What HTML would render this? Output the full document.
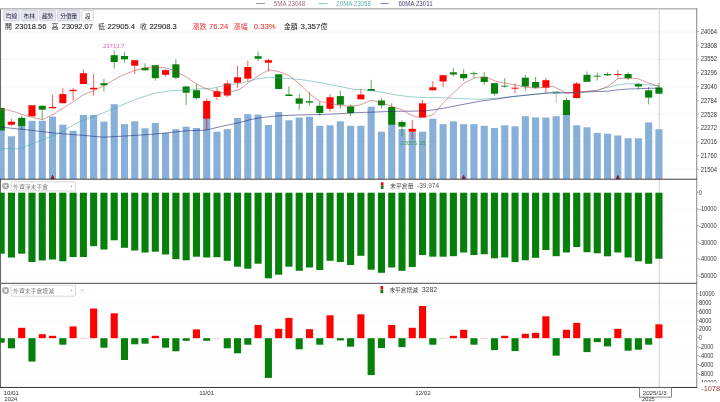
<!DOCTYPE html>
<html lang="zh-Hant"><head><meta charset="utf-8"><title>chart</title>
<style>
html,body{margin:0;padding:0;background:#fff;}
body{width:720px;height:402px;overflow:hidden;position:relative;}
svg{position:absolute;left:0;top:0;display:block;font-family:"Liberation Sans","Noto Sans CJK TC",sans-serif;}
</style></head><body>
<svg width="720" height="402" viewBox="0 0 720 402">
<line x1="256.2" y1="3.55" x2="265.2" y2="3.55" stroke="#7a4450" stroke-width="0.6"/>
<text x="273.8" y="5.95" font-size="6.6" fill="#ad6b78" text-anchor="start" textLength="31.5" lengthAdjust="spacingAndGlyphs">5MA 23048</text>
<line x1="318.6" y1="3.55" x2="327.3" y2="3.55" stroke="#4f9a9a" stroke-width="0.6"/>
<text x="336.3" y="5.95" font-size="6.6" fill="#5fb0ac" text-anchor="start" textLength="34.6" lengthAdjust="spacingAndGlyphs">20MA 23058</text>
<line x1="380.6" y1="3.55" x2="388.7" y2="3.55" stroke="#2a2a66" stroke-width="0.6"/>
<text x="398.4" y="5.95" font-size="6.6" fill="#45457f" text-anchor="start" textLength="34.2" lengthAdjust="spacingAndGlyphs">60MA 23011</text>
<line x1="1" y1="31.9" x2="697" y2="31.9" stroke="#f4f2f3" stroke-width="0.8"/>
<line x1="1" y1="59.35" x2="697" y2="59.35" stroke="#f4f2f3" stroke-width="0.8"/>
<line x1="1" y1="86.8" x2="697" y2="86.8" stroke="#f4f2f3" stroke-width="0.8"/>
<line x1="1" y1="114.25" x2="697" y2="114.25" stroke="#f4f2f3" stroke-width="0.8"/>
<line x1="1" y1="141.7" x2="697" y2="141.7" stroke="#f4f2f3" stroke-width="0.8"/>
<line x1="1" y1="169.15" x2="697" y2="169.15" stroke="#f4f2f3" stroke-width="0.8"/>
<line x1="1" y1="382.45" x2="697" y2="382.45" stroke="#fafafa" stroke-width="0.7"/>
<line x1="1" y1="373.6" x2="697" y2="373.6" stroke="#fafafa" stroke-width="0.7"/>
<line x1="1" y1="364.75" x2="697" y2="364.75" stroke="#fafafa" stroke-width="0.7"/>
<line x1="1" y1="355.9" x2="697" y2="355.9" stroke="#fafafa" stroke-width="0.7"/>
<line x1="1" y1="347.05" x2="697" y2="347.05" stroke="#fafafa" stroke-width="0.7"/>
<line x1="1" y1="329.35" x2="697" y2="329.35" stroke="#fafafa" stroke-width="0.7"/>
<line x1="1" y1="320.5" x2="697" y2="320.5" stroke="#fafafa" stroke-width="0.7"/>
<line x1="1" y1="311.65" x2="697" y2="311.65" stroke="#fafafa" stroke-width="0.7"/>
<line x1="1" y1="302.8" x2="697" y2="302.8" stroke="#fafafa" stroke-width="0.7"/>
<line x1="1" y1="209.3" x2="697" y2="209.3" stroke="#fafafa" stroke-width="0.7"/>
<line x1="1" y1="225.9" x2="697" y2="225.9" stroke="#fafafa" stroke-width="0.7"/>
<line x1="1" y1="242.5" x2="697" y2="242.5" stroke="#fafafa" stroke-width="0.7"/>
<line x1="1" y1="259.1" x2="697" y2="259.1" stroke="#fafafa" stroke-width="0.7"/>
<line x1="1" y1="275.7" x2="697" y2="275.7" stroke="#fafafa" stroke-width="0.7"/>
<line x1="0.5" y1="8.5" x2="0.5" y2="387.5" stroke="#6a6a6a" stroke-width="1.1"/>
<defs><linearGradient id="cg" x1="0" x2="1" y1="0" y2="0"><stop offset="0" stop-color="#d6d9e4" stop-opacity="0"/><stop offset="0.6" stop-color="#d6d9e4" stop-opacity="0.3"/><stop offset="0.86" stop-color="#d2d5e2" stop-opacity="1"/><stop offset="1" stop-color="#d2d5e2" stop-opacity="0.75"/></linearGradient></defs>
<rect x="656.6" y="9.4" width="3.6" height="377.6" fill="url(#cg)"/>
<rect x="-2.4" y="125" width="7.1" height="53.9" fill="#88afd8"/>
<rect x="7.88" y="136.3" width="7.1" height="42.6" fill="#88afd8"/>
<rect x="18.16" y="121" width="7.1" height="57.9" fill="#88afd8"/>
<rect x="28.43" y="120.8" width="7.1" height="58.1" fill="#88afd8"/>
<rect x="38.71" y="120.8" width="7.1" height="58.1" fill="#88afd8"/>
<rect x="48.99" y="116.6" width="7.1" height="62.3" fill="#88afd8"/>
<rect x="59.27" y="124.7" width="7.1" height="54.2" fill="#88afd8"/>
<rect x="69.55" y="130.8" width="7.1" height="48.1" fill="#88afd8"/>
<rect x="79.82" y="115" width="7.1" height="63.9" fill="#88afd8"/>
<rect x="90.1" y="115" width="7.1" height="63.9" fill="#88afd8"/>
<rect x="100.38" y="121.7" width="7.1" height="57.2" fill="#88afd8"/>
<rect x="110.66" y="104.2" width="7.1" height="74.7" fill="#88afd8"/>
<rect x="120.94" y="124.2" width="7.1" height="54.7" fill="#88afd8"/>
<rect x="131.21" y="121.3" width="7.1" height="57.6" fill="#88afd8"/>
<rect x="141.49" y="128.3" width="7.1" height="50.6" fill="#88afd8"/>
<rect x="151.77" y="123" width="7.1" height="55.9" fill="#88afd8"/>
<rect x="162.05" y="133" width="7.1" height="45.9" fill="#88afd8"/>
<rect x="172.33" y="129.2" width="7.1" height="49.7" fill="#88afd8"/>
<rect x="182.6" y="126.7" width="7.1" height="52.2" fill="#88afd8"/>
<rect x="192.88" y="128" width="7.1" height="50.9" fill="#88afd8"/>
<rect x="203.16" y="118" width="7.1" height="60.9" fill="#88afd8"/>
<rect x="213.44" y="131.7" width="7.1" height="47.2" fill="#88afd8"/>
<rect x="223.72" y="129.2" width="7.1" height="49.7" fill="#88afd8"/>
<rect x="233.99" y="118" width="7.1" height="60.9" fill="#88afd8"/>
<rect x="244.27" y="114.2" width="7.1" height="64.7" fill="#88afd8"/>
<rect x="254.55" y="114.7" width="7.1" height="64.2" fill="#88afd8"/>
<rect x="264.83" y="125" width="7.1" height="53.9" fill="#88afd8"/>
<rect x="275.11" y="112" width="7.1" height="66.9" fill="#88afd8"/>
<rect x="285.38" y="120.3" width="7.1" height="58.6" fill="#88afd8"/>
<rect x="295.66" y="117.5" width="7.1" height="61.4" fill="#88afd8"/>
<rect x="305.94" y="116.7" width="7.1" height="62.2" fill="#88afd8"/>
<rect x="316.22" y="125.8" width="7.1" height="53.1" fill="#88afd8"/>
<rect x="326.5" y="125.3" width="7.1" height="53.6" fill="#88afd8"/>
<rect x="336.77" y="121.3" width="7.1" height="57.6" fill="#88afd8"/>
<rect x="347.05" y="125.8" width="7.1" height="53.1" fill="#88afd8"/>
<rect x="357.33" y="125.8" width="7.1" height="53.1" fill="#88afd8"/>
<rect x="367.61" y="106.7" width="7.1" height="72.2" fill="#88afd8"/>
<rect x="377.89" y="131.7" width="7.1" height="47.2" fill="#88afd8"/>
<rect x="388.16" y="124" width="7.1" height="54.9" fill="#88afd8"/>
<rect x="398.44" y="129.2" width="7.1" height="49.7" fill="#88afd8"/>
<rect x="408.72" y="132" width="7.1" height="46.9" fill="#88afd8"/>
<rect x="419" y="131.7" width="7.1" height="47.2" fill="#88afd8"/>
<rect x="429.28" y="118.7" width="7.1" height="60.2" fill="#88afd8"/>
<rect x="439.55" y="124.2" width="7.1" height="54.7" fill="#88afd8"/>
<rect x="449.83" y="121.3" width="7.1" height="57.6" fill="#88afd8"/>
<rect x="460.11" y="124.2" width="7.1" height="54.7" fill="#88afd8"/>
<rect x="470.39" y="124.2" width="7.1" height="54.7" fill="#88afd8"/>
<rect x="480.67" y="125.8" width="7.1" height="53.1" fill="#88afd8"/>
<rect x="490.94" y="128" width="7.1" height="50.9" fill="#88afd8"/>
<rect x="501.22" y="125.3" width="7.1" height="53.6" fill="#88afd8"/>
<rect x="511.5" y="126.3" width="7.1" height="52.6" fill="#88afd8"/>
<rect x="521.78" y="116.2" width="7.1" height="62.7" fill="#88afd8"/>
<rect x="532.06" y="117.5" width="7.1" height="61.4" fill="#88afd8"/>
<rect x="542.33" y="117.5" width="7.1" height="61.4" fill="#88afd8"/>
<rect x="552.61" y="116.2" width="7.1" height="62.7" fill="#88afd8"/>
<rect x="562.89" y="114.5" width="7.1" height="64.4" fill="#88afd8"/>
<rect x="573.17" y="125.3" width="7.1" height="53.6" fill="#88afd8"/>
<rect x="583.45" y="127.3" width="7.1" height="51.6" fill="#88afd8"/>
<rect x="593.72" y="132.8" width="7.1" height="46.1" fill="#88afd8"/>
<rect x="604" y="133.7" width="7.1" height="45.2" fill="#88afd8"/>
<rect x="614.28" y="135.5" width="7.1" height="43.4" fill="#88afd8"/>
<rect x="624.56" y="138.3" width="7.1" height="40.6" fill="#88afd8"/>
<rect x="634.84" y="138.3" width="7.1" height="40.6" fill="#88afd8"/>
<rect x="645.11" y="122.5" width="7.1" height="56.4" fill="#88afd8"/>
<rect x="655.39" y="129.2" width="7.1" height="49.7" fill="#88afd8"/>
<rect x="-2.4" y="108" width="7.1" height="22.5" fill="#06800a"/>
<line x1="11.43" y1="119" x2="11.43" y2="126.2" stroke="#fb0303" stroke-width="0.65"/>
<rect x="7.88" y="121.8" width="7.1" height="2.9" fill="#fb0303"/>
<line x1="21.71" y1="115.5" x2="21.71" y2="129.8" stroke="#06800a" stroke-width="0.65"/>
<rect x="18.16" y="117.8" width="7.1" height="8.2" fill="#06800a"/>
<rect x="28.43" y="105.2" width="7.1" height="11.2" fill="#fb0303"/>
<line x1="42.26" y1="105.3" x2="42.26" y2="119.5" stroke="#06800a" stroke-width="0.65"/>
<rect x="38.71" y="105.8" width="7.1" height="3.9" fill="#06800a"/>
<line x1="52.54" y1="94.9" x2="52.54" y2="108.3" stroke="#fb0303" stroke-width="0.65"/>
<rect x="48.99" y="106.9" width="7.1" height="1.4" fill="#fb0303"/>
<line x1="62.82" y1="88.2" x2="62.82" y2="103.2" stroke="#fb0303" stroke-width="0.65"/>
<rect x="59.27" y="94.1" width="7.1" height="9.1" fill="#fb0303"/>
<line x1="73.1" y1="88.2" x2="73.1" y2="100.5" stroke="#fb0303" stroke-width="0.65"/>
<rect x="69.55" y="89.8" width="7.1" height="1.4" fill="#fb0303"/>
<line x1="83.37" y1="69.3" x2="83.37" y2="84" stroke="#fb0303" stroke-width="0.65"/>
<rect x="79.82" y="73.2" width="7.1" height="10.8" fill="#fb0303"/>
<line x1="93.65" y1="74" x2="93.65" y2="95.7" stroke="#fb0303" stroke-width="0.65"/>
<rect x="90.1" y="87.8" width="7.1" height="1.5" fill="#fb0303"/>
<line x1="103.93" y1="78.7" x2="103.93" y2="91.5" stroke="#06800a" stroke-width="0.65"/>
<rect x="100.38" y="83.2" width="7.1" height="2.1" fill="#06800a"/>
<line x1="114.21" y1="50.3" x2="114.21" y2="68.7" stroke="#06800a" stroke-width="0.65"/>
<rect x="110.66" y="55.2" width="7.1" height="6.8" fill="#06800a"/>
<line x1="124.49" y1="51.8" x2="124.49" y2="62.7" stroke="#06800a" stroke-width="0.65"/>
<rect x="120.94" y="56" width="7.1" height="3.3" fill="#06800a"/>
<line x1="134.76" y1="60.2" x2="134.76" y2="74" stroke="#fb0303" stroke-width="0.65"/>
<rect x="131.21" y="60.2" width="7.1" height="5.5" fill="#fb0303"/>
<line x1="145.04" y1="63.2" x2="145.04" y2="70.7" stroke="#06800a" stroke-width="0.65"/>
<rect x="141.49" y="67.8" width="7.1" height="2.5" fill="#06800a"/>
<line x1="155.32" y1="64.8" x2="155.32" y2="80.7" stroke="#06800a" stroke-width="0.65"/>
<rect x="151.77" y="65.2" width="7.1" height="13" fill="#06800a"/>
<line x1="165.6" y1="69" x2="165.6" y2="76.5" stroke="#fb0303" stroke-width="0.65"/>
<rect x="162.05" y="70.2" width="7.1" height="4.6" fill="#fb0303"/>
<line x1="175.88" y1="59.3" x2="175.88" y2="79.3" stroke="#06800a" stroke-width="0.65"/>
<rect x="172.33" y="64.3" width="7.1" height="13.4" fill="#06800a"/>
<line x1="186.15" y1="86" x2="186.15" y2="104.9" stroke="#06800a" stroke-width="0.65"/>
<rect x="182.6" y="86.5" width="7.1" height="6.2" fill="#06800a"/>
<line x1="196.43" y1="84" x2="196.43" y2="99.8" stroke="#06800a" stroke-width="0.65"/>
<rect x="192.88" y="90.2" width="7.1" height="7.9" fill="#06800a"/>
<line x1="206.71" y1="98.7" x2="206.71" y2="130" stroke="#fb0303" stroke-width="0.65"/>
<rect x="203.16" y="100.9" width="7.1" height="17.8" fill="#fb0303"/>
<line x1="216.99" y1="87.7" x2="216.99" y2="99.9" stroke="#fb0303" stroke-width="0.65"/>
<rect x="213.44" y="91.2" width="7.1" height="5.7" fill="#fb0303"/>
<line x1="227.27" y1="80.3" x2="227.27" y2="97" stroke="#fb0303" stroke-width="0.65"/>
<rect x="223.72" y="83.5" width="7.1" height="12" fill="#fb0303"/>
<line x1="237.54" y1="65.7" x2="237.54" y2="87.7" stroke="#fb0303" stroke-width="0.65"/>
<rect x="233.99" y="77.3" width="7.1" height="5.4" fill="#fb0303"/>
<line x1="247.82" y1="60.7" x2="247.82" y2="81.5" stroke="#fb0303" stroke-width="0.65"/>
<rect x="244.27" y="67" width="7.1" height="11.7" fill="#fb0303"/>
<line x1="258.1" y1="51.5" x2="258.1" y2="61.2" stroke="#06800a" stroke-width="0.65"/>
<rect x="254.55" y="56.2" width="7.1" height="2.5" fill="#06800a"/>
<line x1="268.38" y1="58.7" x2="268.38" y2="71.5" stroke="#fb0303" stroke-width="0.65"/>
<rect x="264.83" y="60.2" width="7.1" height="2.5" fill="#fb0303"/>
<rect x="275.11" y="74.3" width="7.1" height="14.7" fill="#06800a"/>
<line x1="288.93" y1="86.5" x2="288.93" y2="96" stroke="#06800a" stroke-width="0.65"/>
<rect x="285.38" y="94.5" width="7.1" height="1.5" fill="#06800a"/>
<line x1="299.21" y1="94" x2="299.21" y2="109.8" stroke="#06800a" stroke-width="0.65"/>
<rect x="295.66" y="98.4" width="7.1" height="5.3" fill="#06800a"/>
<line x1="309.49" y1="92.3" x2="309.49" y2="105.5" stroke="#06800a" stroke-width="0.65"/>
<rect x="305.94" y="101.2" width="7.1" height="1.4" fill="#06800a"/>
<line x1="319.77" y1="101.4" x2="319.77" y2="115.8" stroke="#06800a" stroke-width="0.65"/>
<rect x="316.22" y="105.7" width="7.1" height="7.3" fill="#06800a"/>
<line x1="330.05" y1="94.1" x2="330.05" y2="111.3" stroke="#fb0303" stroke-width="0.65"/>
<rect x="326.5" y="97.2" width="7.1" height="11.6" fill="#fb0303"/>
<line x1="340.32" y1="90.7" x2="340.32" y2="108.8" stroke="#06800a" stroke-width="0.65"/>
<rect x="336.77" y="96.1" width="7.1" height="8.6" fill="#06800a"/>
<line x1="350.6" y1="104.7" x2="350.6" y2="116.3" stroke="#06800a" stroke-width="0.65"/>
<rect x="347.05" y="106.4" width="7.1" height="6.6" fill="#06800a"/>
<line x1="360.88" y1="88.7" x2="360.88" y2="99.3" stroke="#fb0303" stroke-width="0.65"/>
<rect x="357.33" y="94.5" width="7.1" height="4.8" fill="#fb0303"/>
<line x1="371.16" y1="79.8" x2="371.16" y2="91" stroke="#06800a" stroke-width="0.65"/>
<rect x="367.61" y="89" width="7.1" height="2" fill="#06800a"/>
<line x1="381.44" y1="98.1" x2="381.44" y2="108.1" stroke="#06800a" stroke-width="0.65"/>
<rect x="377.89" y="100.5" width="7.1" height="4.8" fill="#06800a"/>
<line x1="391.71" y1="103.1" x2="391.71" y2="124.7" stroke="#06800a" stroke-width="0.65"/>
<rect x="388.16" y="107" width="7.1" height="17.7" fill="#06800a"/>
<line x1="401.99" y1="120.3" x2="401.99" y2="136.3" stroke="#06800a" stroke-width="0.65"/>
<rect x="398.44" y="122" width="7.1" height="4.7" fill="#06800a"/>
<line x1="412.27" y1="120" x2="412.27" y2="139.2" stroke="#fb0303" stroke-width="0.65"/>
<rect x="408.72" y="128.8" width="7.1" height="2.9" fill="#fb0303"/>
<line x1="422.55" y1="99.9" x2="422.55" y2="117.5" stroke="#fb0303" stroke-width="0.65"/>
<rect x="419" y="103.3" width="7.1" height="14.2" fill="#fb0303"/>
<line x1="432.83" y1="81" x2="432.83" y2="90.3" stroke="#fb0303" stroke-width="0.65"/>
<rect x="429.28" y="87.3" width="7.1" height="3" fill="#fb0303"/>
<line x1="443.1" y1="75.2" x2="443.1" y2="87.3" stroke="#fb0303" stroke-width="0.65"/>
<rect x="439.55" y="75.2" width="7.1" height="6.3" fill="#fb0303"/>
<line x1="453.38" y1="67.8" x2="453.38" y2="76.5" stroke="#06800a" stroke-width="0.65"/>
<rect x="449.83" y="72.3" width="7.1" height="2.2" fill="#06800a"/>
<line x1="463.66" y1="69" x2="463.66" y2="81" stroke="#06800a" stroke-width="0.65"/>
<rect x="460.11" y="74" width="7.1" height="4.2" fill="#06800a"/>
<line x1="473.94" y1="71.5" x2="473.94" y2="78.2" stroke="#06800a" stroke-width="0.65"/>
<rect x="470.39" y="73.2" width="7.1" height="0.9" fill="#06800a"/>
<line x1="484.22" y1="72" x2="484.22" y2="84.8" stroke="#06800a" stroke-width="0.65"/>
<rect x="480.67" y="76.8" width="7.1" height="5.2" fill="#06800a"/>
<line x1="494.49" y1="82.5" x2="494.49" y2="95.7" stroke="#06800a" stroke-width="0.65"/>
<rect x="490.94" y="83.2" width="7.1" height="10.5" fill="#06800a"/>
<line x1="504.77" y1="78.2" x2="504.77" y2="87.7" stroke="#06800a" stroke-width="0.65"/>
<rect x="501.22" y="85.7" width="7.1" height="0.9" fill="#06800a"/>
<line x1="515.05" y1="83.7" x2="515.05" y2="93.2" stroke="#fb0303" stroke-width="0.65"/>
<rect x="511.5" y="87.7" width="7.1" height="1" fill="#fb0303"/>
<line x1="525.33" y1="74.8" x2="525.33" y2="90.7" stroke="#06800a" stroke-width="0.65"/>
<rect x="521.78" y="77.7" width="7.1" height="8.8" fill="#06800a"/>
<line x1="535.61" y1="77" x2="535.61" y2="88.5" stroke="#06800a" stroke-width="0.65"/>
<rect x="532.06" y="82" width="7.1" height="5.7" fill="#06800a"/>
<line x1="545.88" y1="77.7" x2="545.88" y2="93.2" stroke="#fb0303" stroke-width="0.65"/>
<rect x="542.33" y="80.2" width="7.1" height="7.5" fill="#fb0303"/>
<line x1="556.16" y1="91.5" x2="556.16" y2="103" stroke="#7fa890" stroke-width="0.65"/>
<rect x="552.61" y="91.5" width="7.1" height="2" fill="#8dbf9f"/>
<line x1="566.44" y1="97.6" x2="566.44" y2="115" stroke="#06800a" stroke-width="0.65"/>
<rect x="562.89" y="100.1" width="7.1" height="14.9" fill="#06800a"/>
<line x1="576.72" y1="82" x2="576.72" y2="98.1" stroke="#fb0303" stroke-width="0.65"/>
<rect x="573.17" y="83.5" width="7.1" height="14.6" fill="#fb0303"/>
<line x1="587" y1="71.5" x2="587" y2="81.8" stroke="#06800a" stroke-width="0.65"/>
<rect x="583.45" y="74.8" width="7.1" height="7" fill="#06800a"/>
<line x1="597.27" y1="72.7" x2="597.27" y2="80.6" stroke="#06800a" stroke-width="0.65"/>
<rect x="593.72" y="75.7" width="7.1" height="0.9" fill="#06800a"/>
<line x1="607.55" y1="72.3" x2="607.55" y2="75.8" stroke="#06800a" stroke-width="0.65"/>
<rect x="604" y="74" width="7.1" height="1.3" fill="#06800a"/>
<line x1="617.83" y1="70.3" x2="617.83" y2="77.3" stroke="#fb0303" stroke-width="0.65"/>
<rect x="614.28" y="74" width="7.1" height="1" fill="#fb0303"/>
<line x1="628.11" y1="72.3" x2="628.11" y2="80.3" stroke="#06800a" stroke-width="0.65"/>
<rect x="624.56" y="74" width="7.1" height="4.2" fill="#06800a"/>
<line x1="638.39" y1="82.7" x2="638.39" y2="89.3" stroke="#06800a" stroke-width="0.65"/>
<rect x="634.84" y="84" width="7.1" height="2.5" fill="#06800a"/>
<line x1="648.66" y1="87" x2="648.66" y2="104.3" stroke="#06800a" stroke-width="0.65"/>
<rect x="645.11" y="90.3" width="7.1" height="7.3" fill="#06800a"/>
<line x1="658.94" y1="83.4" x2="658.94" y2="93.7" stroke="#06800a" stroke-width="0.65"/>
<rect x="655.39" y="87.5" width="7.1" height="6.2" fill="#06800a"/>
<polyline fill="none" stroke="#4aa6a6" stroke-width="0.55" stroke-linejoin="round" points="0,148.7 18.3,148.7 25,146.7 41.7,140 58.3,133.7 73.3,125 83.3,120 100,114.2 120,105.8 136.7,99 153.3,93.6 170,90.8 186.7,89.8 196.7,89 213.3,88.2 226.7,84.8 240,83.5 256.7,79 268.7,77.3 290,78.5 306.7,80.3 323.3,83.2 340,86.5 353.3,89.3 360,89.6 371.3,90.7 381.7,92.2 393.3,94.5 401.7,95.7 410,96.8 418.3,97.3 426.7,97.5 443.3,97.8 460,98.5 480,99.3 496.7,98.2 513.3,96.5 530,94.8 546.7,92.8 556.7,92 566.7,93.2 580,92.3 596.7,90.3 607.8,87.3 618,84.8 628.3,83.7 638.7,84 648.8,84.8 659.2,86"/>
<polyline fill="none" stroke="#1c1c78" stroke-width="0.55" stroke-linejoin="round" points="0,127 16.7,128.8 33.3,130.5 50,132.5 66.7,134.2 83.3,135.3 103.3,137.2 120,136.3 136.7,135.3 153.3,134.2 170,132.5 186.7,130.8 206.7,130 220,126.7 240,122.5 250,119.7 261.7,117.5 278.3,115.8 298.3,115 320,114.5 340,113.7 360,112.5 376.7,112 393.3,111.3 410,111.2 426.7,110.8 443.3,108.3 460,105 480,101.2 496.7,99 513.3,96.5 530,94.8 546.7,93.2 563.3,92.8 580,92.3 596.7,91.5 607.8,91.2 618,89.8 628.3,89 638.7,88.7 648.8,88.3 659.2,88.2"/>
<polyline fill="none" stroke="#b84a4a" stroke-width="0.55" stroke-linejoin="round" points="0,110 8.3,110 16.7,112.5 27.5,116.2 42.5,119.7 53.3,114.2 63.3,108 73.3,101.6 83.3,94.9 93.3,90.7 104.2,85.7 114.4,79.5 120,76.3 134.2,70.7 145,67.8 155.8,66.8 165.8,67.8 176.2,71.5 186.7,77.3 196.7,84 207,89 217.3,92.3 227.5,93.2 240,89 248.3,82.7 258.3,75.7 268.7,69.8 278.8,71.5 289.2,75.7 299.5,84 309.7,94 320,101.5 330.3,103.2 340.5,105.7 350.8,106 360,105.1 371.3,100.2 381.7,102.8 391.7,106.4 402.2,110 412.5,115.8 420,117.5 426.7,116.7 433,114.7 443.3,102.8 453.7,92.8 463.8,83.2 474.2,78.2 480,77 488.3,78.2 496.7,81.5 505,83.2 515.3,84.8 525.5,87.3 535.8,88.2 546.2,87 553.3,86.5 560,89.8 566.7,93.2 577,92.7 587.2,91.2 596.7,90.7 607.8,86.5 618,78.5 628.3,78.2 637.5,78.5 648.8,83.2 659.2,86.5"/>
<text x="102.9" y="47.9" font-size="6" fill="#e65aa8" text-anchor="start">23713.7</text>
<text x="400.3" y="145" font-size="6" fill="#3f9a5a" text-anchor="start">22055.38</text>
<polygon points="50.24,179.2 54.84,179.2 52.54,174.6" fill="#8c1c34"/>
<polygon points="461.36,179.2 465.96,179.2 463.66,174.6" fill="#8c1c34"/>
<polygon points="615.53,179.2 620.13,179.2 617.83,174.6" fill="#8c1c34"/>
<rect x="-2.4" y="192.7" width="7.1" height="61" fill="#06800a"/>
<rect x="7.88" y="192.7" width="7.1" height="64.8" fill="#06800a"/>
<rect x="18.16" y="192.7" width="7.1" height="61" fill="#06800a"/>
<rect x="28.43" y="192.7" width="7.1" height="69.3" fill="#06800a"/>
<rect x="38.71" y="192.7" width="7.1" height="67.8" fill="#06800a"/>
<rect x="48.99" y="192.7" width="7.1" height="66.8" fill="#06800a"/>
<rect x="59.27" y="192.7" width="7.1" height="68.6" fill="#06800a"/>
<rect x="69.55" y="192.7" width="7.1" height="64.3" fill="#06800a"/>
<rect x="79.82" y="192.7" width="7.1" height="64.3" fill="#06800a"/>
<rect x="90.1" y="192.7" width="7.1" height="53.5" fill="#06800a"/>
<rect x="100.38" y="192.7" width="7.1" height="56.8" fill="#06800a"/>
<rect x="110.66" y="192.7" width="7.1" height="47.6" fill="#06800a"/>
<rect x="120.94" y="192.7" width="7.1" height="55.1" fill="#06800a"/>
<rect x="131.21" y="192.7" width="7.1" height="57.8" fill="#06800a"/>
<rect x="141.49" y="192.7" width="7.1" height="59.8" fill="#06800a"/>
<rect x="151.77" y="192.7" width="7.1" height="59" fill="#06800a"/>
<rect x="162.05" y="192.7" width="7.1" height="61.8" fill="#06800a"/>
<rect x="172.33" y="192.7" width="7.1" height="66.5" fill="#06800a"/>
<rect x="182.6" y="192.7" width="7.1" height="67.6" fill="#06800a"/>
<rect x="192.88" y="192.7" width="7.1" height="64" fill="#06800a"/>
<rect x="203.16" y="192.7" width="7.1" height="64.8" fill="#06800a"/>
<rect x="213.44" y="192.7" width="7.1" height="64.5" fill="#06800a"/>
<rect x="223.72" y="192.7" width="7.1" height="68.1" fill="#06800a"/>
<rect x="233.99" y="192.7" width="7.1" height="74" fill="#06800a"/>
<rect x="244.27" y="192.7" width="7.1" height="76" fill="#06800a"/>
<rect x="254.55" y="192.7" width="7.1" height="71" fill="#06800a"/>
<rect x="264.83" y="192.7" width="7.1" height="85.6" fill="#06800a"/>
<rect x="275.11" y="192.7" width="7.1" height="82" fill="#06800a"/>
<rect x="285.38" y="192.7" width="7.1" height="74" fill="#06800a"/>
<rect x="295.66" y="192.7" width="7.1" height="78.1" fill="#06800a"/>
<rect x="305.94" y="192.7" width="7.1" height="74.8" fill="#06800a"/>
<rect x="316.22" y="192.7" width="7.1" height="77.3" fill="#06800a"/>
<rect x="326.5" y="192.7" width="7.1" height="68.1" fill="#06800a"/>
<rect x="336.77" y="192.7" width="7.1" height="69.3" fill="#06800a"/>
<rect x="347.05" y="192.7" width="7.1" height="72.3" fill="#06800a"/>
<rect x="357.33" y="192.7" width="7.1" height="63.1" fill="#06800a"/>
<rect x="367.61" y="192.7" width="7.1" height="77" fill="#06800a"/>
<rect x="377.89" y="192.7" width="7.1" height="80.1" fill="#06800a"/>
<rect x="388.16" y="192.7" width="7.1" height="74.8" fill="#06800a"/>
<rect x="398.44" y="192.7" width="7.1" height="78.1" fill="#06800a"/>
<rect x="408.72" y="192.7" width="7.1" height="74.3" fill="#06800a"/>
<rect x="419" y="192.7" width="7.1" height="62.3" fill="#06800a"/>
<rect x="429.28" y="192.7" width="7.1" height="64" fill="#06800a"/>
<rect x="439.55" y="192.7" width="7.1" height="64" fill="#06800a"/>
<rect x="449.83" y="192.7" width="7.1" height="63.5" fill="#06800a"/>
<rect x="460.11" y="192.7" width="7.1" height="59.8" fill="#06800a"/>
<rect x="470.39" y="192.7" width="7.1" height="62.3" fill="#06800a"/>
<rect x="480.67" y="192.7" width="7.1" height="61.5" fill="#06800a"/>
<rect x="490.94" y="192.7" width="7.1" height="65.6" fill="#06800a"/>
<rect x="501.22" y="192.7" width="7.1" height="64.8" fill="#06800a"/>
<rect x="511.5" y="192.7" width="7.1" height="69.3" fill="#06800a"/>
<rect x="521.78" y="192.7" width="7.1" height="67.6" fill="#06800a"/>
<rect x="532.06" y="192.7" width="7.1" height="65.1" fill="#06800a"/>
<rect x="542.33" y="192.7" width="7.1" height="57.3" fill="#06800a"/>
<rect x="552.61" y="192.7" width="7.1" height="63.5" fill="#06800a"/>
<rect x="562.89" y="192.7" width="7.1" height="59.8" fill="#06800a"/>
<rect x="573.17" y="192.7" width="7.1" height="54.3" fill="#06800a"/>
<rect x="583.45" y="192.7" width="7.1" height="59.5" fill="#06800a"/>
<rect x="593.72" y="192.7" width="7.1" height="60.6" fill="#06800a"/>
<rect x="604" y="192.7" width="7.1" height="63.6" fill="#06800a"/>
<rect x="614.28" y="192.7" width="7.1" height="59.8" fill="#06800a"/>
<rect x="624.56" y="192.7" width="7.1" height="64.8" fill="#06800a"/>
<rect x="634.84" y="192.7" width="7.1" height="68.6" fill="#06800a"/>
<rect x="645.11" y="192.7" width="7.1" height="71.1" fill="#06800a"/>
<rect x="655.39" y="192.7" width="7.1" height="66" fill="#06800a"/>
<rect x="-2.4" y="338.2" width="7.1" height="4.5" fill="#06800a"/>
<rect x="7.88" y="338.2" width="7.1" height="10.1" fill="#06800a"/>
<rect x="18.16" y="327.8" width="7.1" height="10.4" fill="#fb0303"/>
<rect x="28.43" y="338.2" width="7.1" height="23.4" fill="#06800a"/>
<rect x="38.71" y="334.2" width="7.1" height="4" fill="#fb0303"/>
<rect x="48.99" y="335.8" width="7.1" height="2.4" fill="#fb0303"/>
<rect x="59.27" y="338.2" width="7.1" height="6.5" fill="#06800a"/>
<rect x="69.55" y="326.4" width="7.1" height="11.8" fill="#fb0303"/>
<rect x="79.82" y="337.95" width="7.1" height="0.5" fill="#e8a0a0"/>
<rect x="90.1" y="308.5" width="7.1" height="29.7" fill="#fb0303"/>
<rect x="100.38" y="338.2" width="7.1" height="9.5" fill="#06800a"/>
<rect x="110.66" y="313.3" width="7.1" height="24.9" fill="#fb0303"/>
<rect x="120.94" y="338.2" width="7.1" height="21.8" fill="#06800a"/>
<rect x="131.21" y="338.2" width="7.1" height="6.1" fill="#06800a"/>
<rect x="141.49" y="338.2" width="7.1" height="5.5" fill="#06800a"/>
<rect x="151.77" y="335.8" width="7.1" height="2.4" fill="#fb0303"/>
<rect x="162.05" y="338.2" width="7.1" height="9.5" fill="#06800a"/>
<rect x="172.33" y="338.2" width="7.1" height="13.1" fill="#06800a"/>
<rect x="182.6" y="338.2" width="7.1" height="2.6" fill="#06800a"/>
<rect x="192.88" y="329.4" width="7.1" height="8.8" fill="#fb0303"/>
<rect x="203.16" y="338.2" width="7.1" height="2.6" fill="#06800a"/>
<rect x="213.44" y="337.95" width="7.1" height="0.5" fill="#e8a0a0"/>
<rect x="223.72" y="338.2" width="7.1" height="10.1" fill="#06800a"/>
<rect x="233.99" y="338.2" width="7.1" height="15.1" fill="#06800a"/>
<rect x="244.27" y="338.2" width="7.1" height="6.5" fill="#06800a"/>
<rect x="254.55" y="324.9" width="7.1" height="13.3" fill="#fb0303"/>
<rect x="264.83" y="338.2" width="7.1" height="39.7" fill="#06800a"/>
<rect x="275.11" y="328.8" width="7.1" height="9.4" fill="#fb0303"/>
<rect x="285.38" y="317.9" width="7.1" height="20.3" fill="#fb0303"/>
<rect x="295.66" y="338.2" width="7.1" height="11.1" fill="#06800a"/>
<rect x="305.94" y="329.2" width="7.1" height="9" fill="#fb0303"/>
<rect x="316.22" y="338.2" width="7.1" height="6.5" fill="#06800a"/>
<rect x="326.5" y="315.3" width="7.1" height="22.9" fill="#fb0303"/>
<rect x="336.77" y="338.2" width="7.1" height="2.2" fill="#06800a"/>
<rect x="347.05" y="338.2" width="7.1" height="8.5" fill="#06800a"/>
<rect x="357.33" y="314.3" width="7.1" height="23.9" fill="#fb0303"/>
<rect x="367.61" y="338.2" width="7.1" height="36.9" fill="#06800a"/>
<rect x="377.89" y="338.2" width="7.1" height="9.9" fill="#06800a"/>
<rect x="388.16" y="324.9" width="7.1" height="13.3" fill="#fb0303"/>
<rect x="398.44" y="338.2" width="7.1" height="8.9" fill="#06800a"/>
<rect x="408.72" y="327.8" width="7.1" height="10.4" fill="#fb0303"/>
<rect x="419" y="306" width="7.1" height="32.2" fill="#fb0303"/>
<rect x="429.28" y="338.2" width="7.1" height="6.5" fill="#06800a"/>
<rect x="439.55" y="337.95" width="7.1" height="0.5" fill="#e8a0a0"/>
<rect x="449.83" y="335.8" width="7.1" height="2.4" fill="#fb0303"/>
<rect x="460.11" y="329.8" width="7.1" height="8.4" fill="#fb0303"/>
<rect x="470.39" y="338.2" width="7.1" height="6.5" fill="#06800a"/>
<rect x="480.67" y="337.95" width="7.1" height="0.5" fill="#e8a0a0"/>
<rect x="490.94" y="338.2" width="7.1" height="11.9" fill="#06800a"/>
<rect x="501.22" y="335.8" width="7.1" height="2.4" fill="#fb0303"/>
<rect x="511.5" y="338.2" width="7.1" height="12.9" fill="#06800a"/>
<rect x="521.78" y="333.8" width="7.1" height="4.4" fill="#fb0303"/>
<rect x="532.06" y="332.8" width="7.1" height="5.4" fill="#fb0303"/>
<rect x="542.33" y="316.3" width="7.1" height="21.9" fill="#fb0303"/>
<rect x="552.61" y="338.2" width="7.1" height="17.5" fill="#06800a"/>
<rect x="562.89" y="329.8" width="7.1" height="8.4" fill="#fb0303"/>
<rect x="573.17" y="322.9" width="7.1" height="15.3" fill="#fb0303"/>
<rect x="583.45" y="338.2" width="7.1" height="13.9" fill="#06800a"/>
<rect x="593.72" y="338.2" width="7.1" height="3.9" fill="#06800a"/>
<rect x="604" y="338.2" width="7.1" height="8.2" fill="#06800a"/>
<rect x="614.28" y="328.8" width="7.1" height="9.4" fill="#fb0303"/>
<rect x="624.56" y="338.2" width="7.1" height="12.5" fill="#06800a"/>
<rect x="634.84" y="338.2" width="7.1" height="11.5" fill="#06800a"/>
<rect x="645.11" y="338.2" width="7.1" height="6.5" fill="#06800a"/>
<rect x="655.39" y="324.3" width="7.1" height="13.9" fill="#fb0303"/>
<line x1="0" y1="8.8" x2="697.5" y2="8.8" stroke="#b8b8b8" stroke-width="1.4"/>
<line x1="696.7" y1="8.5" x2="696.7" y2="387.3" stroke="#909090" stroke-width="1.1"/>
<line x1="0" y1="179.2" x2="697" y2="179.2" stroke="#3c3c3c" stroke-width="1"/>
<line x1="0" y1="283.4" x2="697" y2="283.4" stroke="#6e6e6e" stroke-width="1.15"/>
<line x1="0" y1="387.45" x2="697.2" y2="387.45" stroke="#303030" stroke-width="1"/>
<line x1="697" y1="31.4" x2="698.8" y2="31.4" stroke="#909090" stroke-width="0.8"/>
<text x="700.7" y="33.85" font-size="6.6" fill="#333" text-anchor="start" textLength="16.3" lengthAdjust="spacingAndGlyphs">24064</text>
<line x1="697" y1="45.19" x2="698.8" y2="45.19" stroke="#909090" stroke-width="0.8"/>
<text x="700.7" y="47.64" font-size="6.6" fill="#333" text-anchor="start" textLength="16.3" lengthAdjust="spacingAndGlyphs">23808</text>
<line x1="697" y1="58.98" x2="698.8" y2="58.98" stroke="#909090" stroke-width="0.8"/>
<text x="700.7" y="61.43" font-size="6.6" fill="#333" text-anchor="start" textLength="16.3" lengthAdjust="spacingAndGlyphs">23552</text>
<line x1="697" y1="72.77" x2="698.8" y2="72.77" stroke="#909090" stroke-width="0.8"/>
<text x="700.7" y="75.22" font-size="6.6" fill="#333" text-anchor="start" textLength="16.3" lengthAdjust="spacingAndGlyphs">23296</text>
<line x1="697" y1="86.56" x2="698.8" y2="86.56" stroke="#909090" stroke-width="0.8"/>
<text x="700.7" y="89.01" font-size="6.6" fill="#333" text-anchor="start" textLength="16.3" lengthAdjust="spacingAndGlyphs">23040</text>
<line x1="697" y1="100.35" x2="698.8" y2="100.35" stroke="#909090" stroke-width="0.8"/>
<text x="700.7" y="102.8" font-size="6.6" fill="#333" text-anchor="start" textLength="16.3" lengthAdjust="spacingAndGlyphs">22784</text>
<line x1="697" y1="114.14" x2="698.8" y2="114.14" stroke="#909090" stroke-width="0.8"/>
<text x="700.7" y="116.59" font-size="6.6" fill="#333" text-anchor="start" textLength="16.3" lengthAdjust="spacingAndGlyphs">22528</text>
<line x1="697" y1="127.93" x2="698.8" y2="127.93" stroke="#909090" stroke-width="0.8"/>
<text x="700.7" y="130.38" font-size="6.6" fill="#333" text-anchor="start" textLength="16.3" lengthAdjust="spacingAndGlyphs">22272</text>
<line x1="697" y1="141.72" x2="698.8" y2="141.72" stroke="#909090" stroke-width="0.8"/>
<text x="700.7" y="144.17" font-size="6.6" fill="#333" text-anchor="start" textLength="16.3" lengthAdjust="spacingAndGlyphs">22016</text>
<line x1="697" y1="155.51" x2="698.8" y2="155.51" stroke="#909090" stroke-width="0.8"/>
<text x="700.7" y="157.96" font-size="6.6" fill="#333" text-anchor="start" textLength="16.3" lengthAdjust="spacingAndGlyphs">21760</text>
<line x1="697" y1="169.3" x2="698.8" y2="169.3" stroke="#909090" stroke-width="0.8"/>
<text x="700.7" y="171.75" font-size="6.6" fill="#333" text-anchor="start" textLength="16.3" lengthAdjust="spacingAndGlyphs">21504</text>
<line x1="697" y1="192.25" x2="698.8" y2="192.25" stroke="#909090" stroke-width="0.8"/>
<text x="699" y="194.7" font-size="6.6" fill="#333" text-anchor="start" textLength="2.9" lengthAdjust="spacingAndGlyphs">0</text>
<line x1="697" y1="208.85" x2="698.8" y2="208.85" stroke="#909090" stroke-width="0.8"/>
<text x="699" y="211.3" font-size="6.6" fill="#333" text-anchor="start" textLength="17.7" lengthAdjust="spacingAndGlyphs">-10000</text>
<line x1="697" y1="225.45" x2="698.8" y2="225.45" stroke="#909090" stroke-width="0.8"/>
<text x="699" y="227.9" font-size="6.6" fill="#333" text-anchor="start" textLength="17.7" lengthAdjust="spacingAndGlyphs">-20000</text>
<line x1="697" y1="242.05" x2="698.8" y2="242.05" stroke="#909090" stroke-width="0.8"/>
<text x="699" y="244.5" font-size="6.6" fill="#333" text-anchor="start" textLength="17.7" lengthAdjust="spacingAndGlyphs">-30000</text>
<line x1="697" y1="258.65" x2="698.8" y2="258.65" stroke="#909090" stroke-width="0.8"/>
<text x="699" y="261.1" font-size="6.6" fill="#333" text-anchor="start" textLength="17.7" lengthAdjust="spacingAndGlyphs">-40000</text>
<line x1="697" y1="275.25" x2="698.8" y2="275.25" stroke="#909090" stroke-width="0.8"/>
<text x="699" y="277.7" font-size="6.6" fill="#333" text-anchor="start" textLength="17.7" lengthAdjust="spacingAndGlyphs">-50000</text>
<line x1="697" y1="293.55" x2="698.8" y2="293.55" stroke="#909090" stroke-width="0.8"/>
<text x="699" y="296" font-size="6.6" fill="#333" text-anchor="start" textLength="15.7" lengthAdjust="spacingAndGlyphs">10000</text>
<line x1="697" y1="302.42" x2="698.8" y2="302.42" stroke="#909090" stroke-width="0.8"/>
<text x="699" y="304.87" font-size="6.6" fill="#333" text-anchor="start" textLength="12.5" lengthAdjust="spacingAndGlyphs">8000</text>
<line x1="697" y1="311.29" x2="698.8" y2="311.29" stroke="#909090" stroke-width="0.8"/>
<text x="699" y="313.74" font-size="6.6" fill="#333" text-anchor="start" textLength="12.5" lengthAdjust="spacingAndGlyphs">6000</text>
<line x1="697" y1="320.16" x2="698.8" y2="320.16" stroke="#909090" stroke-width="0.8"/>
<text x="699" y="322.61" font-size="6.6" fill="#333" text-anchor="start" textLength="12.5" lengthAdjust="spacingAndGlyphs">4000</text>
<line x1="697" y1="329.03" x2="698.8" y2="329.03" stroke="#909090" stroke-width="0.8"/>
<text x="699" y="331.48" font-size="6.6" fill="#333" text-anchor="start" textLength="12.5" lengthAdjust="spacingAndGlyphs">2000</text>
<line x1="697" y1="337.9" x2="698.8" y2="337.9" stroke="#909090" stroke-width="0.8"/>
<text x="699" y="340.35" font-size="6.6" fill="#333" text-anchor="start" textLength="2.9" lengthAdjust="spacingAndGlyphs">0</text>
<line x1="697" y1="346.77" x2="698.8" y2="346.77" stroke="#909090" stroke-width="0.8"/>
<text x="699" y="349.22" font-size="6.6" fill="#333" text-anchor="start" textLength="14.5" lengthAdjust="spacingAndGlyphs">-2000</text>
<line x1="697" y1="355.64" x2="698.8" y2="355.64" stroke="#909090" stroke-width="0.8"/>
<text x="699" y="358.09" font-size="6.6" fill="#333" text-anchor="start" textLength="14.5" lengthAdjust="spacingAndGlyphs">-4000</text>
<line x1="697" y1="364.51" x2="698.8" y2="364.51" stroke="#909090" stroke-width="0.8"/>
<text x="699" y="366.96" font-size="6.6" fill="#333" text-anchor="start" textLength="14.5" lengthAdjust="spacingAndGlyphs">-6000</text>
<line x1="697" y1="373.38" x2="698.8" y2="373.38" stroke="#909090" stroke-width="0.8"/>
<text x="699" y="375.83" font-size="6.6" fill="#333" text-anchor="start" textLength="14.5" lengthAdjust="spacingAndGlyphs">-8000</text>
<clipPath id="cl"><rect x="697" y="378" width="23" height="4.3"/></clipPath>
<text x="699" y="384.7" font-size="6.6" fill="#333" text-anchor="start" textLength="17.7" lengthAdjust="spacingAndGlyphs" clip-path="url(#cl)">-10000</text>
<text x="701.2" y="390.7" font-size="7.4" fill="#9c3a2c" text-anchor="start">-1078</text>
<text x="3.5" y="394.6" font-size="6.2" fill="#333" text-anchor="start">10/01</text>
<text x="4.6" y="400.7" font-size="5.7" fill="#333" text-anchor="start">2024</text>
<text x="199.2" y="394.6" font-size="6.2" fill="#333" text-anchor="start">11/01</text>
<text x="415.2" y="394.6" font-size="6.2" fill="#333" text-anchor="start">12/02</text>
<text x="642.1" y="400.7" font-size="5.7" fill="#333" text-anchor="start">2025</text>
<rect x="639.5" y="387.7" width="32" height="9.4" fill="#fff" stroke="#555" stroke-width="0.7"/>
<text x="642.7" y="394.6" font-size="6.2" fill="#333" text-anchor="start">2025/1/3</text>
<rect x="3.6" y="10.4" width="15.6" height="10.5" fill="#e7e8f2" stroke="#c3c4d2" stroke-width="0.7" rx="0.9"/>
<text x="11.4" y="18" font-size="5.7" fill="#23233c" text-anchor="middle">均線</text>
<rect x="21.1" y="10.4" width="16.4" height="10.5" fill="#e7e8f2" stroke="#c3c4d2" stroke-width="0.7" rx="0.9"/>
<text x="29.3" y="18" font-size="5.7" fill="#23233c" text-anchor="middle">布林</text>
<rect x="39.6" y="10.4" width="16" height="10.5" fill="#e7e8f2" stroke="#c3c4d2" stroke-width="0.7" rx="0.9"/>
<text x="47.6" y="18" font-size="5.7" fill="#23233c" text-anchor="middle">趨勢</text>
<rect x="57.6" y="10.4" width="22.3" height="10.5" fill="#e7e8f2" stroke="#c3c4d2" stroke-width="0.7" rx="0.9"/>
<text x="68.75" y="18" font-size="5.7" fill="#23233c" text-anchor="middle">分價量</text>
<rect x="81.9" y="10.4" width="11.4" height="10.5" fill="#ffffff" stroke="#c3c4d2" stroke-width="0.7" rx="0.9"/>
<text x="87.6" y="18" font-size="5.7" fill="#23233c" text-anchor="middle">設</text>
<text x="5" y="29.2" font-size="6.9" fill="#262626" text-anchor="start">開</text>
<text x="15" y="29.3" font-size="8.1" fill="#262626" text-anchor="start" textLength="31.5" lengthAdjust="spacingAndGlyphs" stroke="#262626" stroke-width="0.1">23018.56</text>
<text x="51.4" y="29.2" font-size="6.9" fill="#262626" text-anchor="start">高</text>
<text x="61.8" y="29.3" font-size="8.1" fill="#262626" text-anchor="start" textLength="31" lengthAdjust="spacingAndGlyphs" stroke="#262626" stroke-width="0.1">23092.07</text>
<text x="98" y="29.2" font-size="6.9" fill="#262626" text-anchor="start">低</text>
<text x="107.4" y="29.3" font-size="8.1" fill="#262626" text-anchor="start" textLength="27.7" lengthAdjust="spacingAndGlyphs" stroke="#262626" stroke-width="0.1">22905.4</text>
<text x="140" y="29.2" font-size="6.9" fill="#262626" text-anchor="start">收</text>
<text x="149.4" y="29.3" font-size="8.1" fill="#262626" text-anchor="start" textLength="27.4" lengthAdjust="spacingAndGlyphs" stroke="#262626" stroke-width="0.1">22908.3</text>
<text x="192.3" y="29.2" font-size="7.2" fill="#e63c3c" text-anchor="start">漲跌</text>
<text x="209" y="29.3" font-size="8.1" fill="#e63c3c" text-anchor="start" textLength="19.3" lengthAdjust="spacingAndGlyphs" stroke="#e63c3c" stroke-width="0.1">76.24</text>
<text x="233.3" y="29.2" font-size="7.2" fill="#e63c3c" text-anchor="start">漲幅</text>
<text x="253.75" y="29.3" font-size="8.1" fill="#e63c3c" text-anchor="start" textLength="21.85" lengthAdjust="spacingAndGlyphs" stroke="#e63c3c" stroke-width="0.1">0.33%</text>
<text x="284" y="29.2" font-size="6.8" fill="#262626" text-anchor="start">金額</text>
<text x="300.6" y="29.3" font-size="8.1" fill="#262626" text-anchor="start" textLength="19.8" lengthAdjust="spacingAndGlyphs" stroke="#262626" stroke-width="0.1">3,357</text>
<text x="320.6" y="29.2" font-size="7" fill="#262626" text-anchor="start">億</text>
<circle cx="5.6" cy="186.1" r="3.45" fill="#a9a9a9"/>
<path d="M4.3 184.8L6.9 187.4M6.9 184.8L4.3 187.4" stroke="#fafafa" stroke-width="1.15"/>
<rect x="11.2" y="181.8" width="64.3" height="9.2" fill="#fff" stroke="#cdcdcd" stroke-width="0.8" rx="0.8"/>
<text x="13.1" y="188.6" font-size="5.85" fill="#4a4a4a" text-anchor="start" font-weight="300">外資淨未平倉</text>
<polygon points="70.5,185.8 72.5,185.8 71.5,187.2" fill="#888"/>
<circle cx="5.6" cy="290.45" r="3.45" fill="#a9a9a9"/>
<path d="M4.3 289.15L6.9 291.75M6.9 289.15L4.3 291.75" stroke="#fafafa" stroke-width="1.15"/>
<rect x="11.2" y="285.3" width="64.3" height="10.9" fill="#fff" stroke="#cdcdcd" stroke-width="0.8" rx="0.8"/>
<text x="13.1" y="292.95" font-size="5.85" fill="#4a4a4a" text-anchor="start" font-weight="300">外資未平倉增減</text>
<polygon points="70.5,290.15 72.5,290.15 71.5,291.55" fill="#888"/>
<text x="82.1" y="293.05" font-size="6.2" fill="#b4cfee" text-anchor="middle" font-weight="bold">?</text>
<rect x="380.8" y="182.3" width="2.7" height="3.3" fill="#e01010"/>
<rect x="380.8" y="185.6" width="2.7" height="3.3" fill="#0c7a10"/>
<text x="390.1" y="187.6" font-size="5.9" fill="#444" text-anchor="start">未平倉量</text>
<text x="417" y="187.7" font-size="6.5" fill="#555" text-anchor="start">-39,974</text>
<rect x="380.5" y="286" width="2.7" height="3.6" fill="#e01010"/>
<rect x="380.5" y="289.6" width="2.7" height="3.6" fill="#0c7a10"/>
<text x="389.4" y="291.9" font-size="5.7" fill="#444" text-anchor="start">未平倉增減</text>
<text x="421.7" y="292.1" font-size="7" fill="#444" text-anchor="start">3282</text>
</svg>
</body></html>
